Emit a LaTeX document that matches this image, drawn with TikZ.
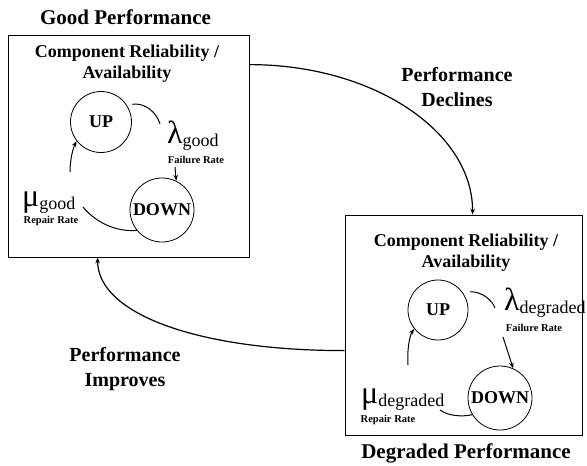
\documentclass[tikz,border=0pt]{standalone}
\usepackage{fontspec}
\setmainfont{Liberation Serif}
\usetikzlibrary{arrows.meta,calc}

% rate symbol with a lowered subscript word
\newcommand\ratesym[2]{{\fontsize{32}{32}\selectfont #1}\raisebox{-3pt}{\fontsize{18}{18}\selectfont #2}}

\begin{document}
\begin{tikzpicture}[x=1pt,y=-1pt,
  panel/.style={draw, line width=0.8pt, inner sep=0pt},
  state/.style={draw, circle, line width=0.8pt, inner sep=0pt,
    font=\fontsize{18}{18}\selectfont\bfseries},
  heading/.style={font=\fontsize{21}{25}\selectfont\bfseries, inner sep=0pt},
  subhead/.style={font=\fontsize{18}{21}\selectfont\bfseries, align=center, inner sep=0pt},
  trans/.style={font=\fontsize{20}{25}\selectfont\bfseries, align=center, inner sep=0pt},
  ratename/.style={font=\fontsize{10.5}{12}\selectfont\bfseries, inner sep=0pt},
  rate/.style={anchor=base west, inner sep=0pt},
  link/.style={line width=1pt},
  flow/.style={line width=1.2pt},
  arrowed/.style={-{Stealth[length=6pt,width=4.5pt]}}
]
\useasboundingbox (0,0) rectangle (587,466);

% ---- good performance panel ----
\node[heading] (t1) at (125.5,17) {Good Performance};
\node[panel, minimum width=241pt, minimum height=222pt] (box1) at (128.5,146) {};
\node[subhead] (s1) at (127,64) {Component Reliability /\\Availability};
\node[state, minimum size=61pt] (up1) at (101,122) {UP};
\node[state, minimum size=64pt] (dn1) at (162,210) {DOWN};
\node[rate] (lam1) at (167,143) {\ratesym{λ}{good}};
\node[ratename] (fr1) at (196,160) {Failure Rate};
\node[rate] (mu1) at (22,206) {\ratesym{μ}{good}};
\node[ratename] (rr1) at (51,221) {Repair Rate};

\coordinate (lam1in) at (160,124);
\coordinate (fr1out) at (175,167);
\coordinate (mu1out) at (83,207);
\coordinate (mu1up) at (70,172);

\draw[link] ([xshift=6pt]up1.35) .. controls +(13,-2) and +(-3,-11) .. (lam1in);
\draw[link, arrowed] (fr1out) -- (dn1.64);
\draw[link] (mu1out) .. controls (97,224) and (118,232) .. (dn1.219);
\draw[link, arrowed] (mu1up) .. controls (70,160) and (73,148) .. (up1.218);

% ---- degraded performance panel ----
\node[panel, minimum width=237pt, minimum height=220pt] (box2) at (463.5,325) {};
\node[heading] (t2) at (466,453) {Degraded Performance};
\node[subhead] (s2) at (466,253) {Component Reliability /\\Availability};
\node[state, minimum size=60pt] (up2) at (438,310) {UP};
\node[state, minimum size=64pt] (dn2) at (500,398) {DOWN};
\node[rate] (lam2) at (504,310) {\ratesym{λ}{degraded}};
\node[ratename] (fr2) at (534,328) {Failure Rate};
\node[rate] (mu2) at (361,403) {\ratesym{μ}{degraded}};
\node[ratename] (rr2) at (388,420) {Repair Rate};

\coordinate (lam2in) at (495,308);
\coordinate (fr2out) at (503,337);
\coordinate (mu2out) at (440,410);
\coordinate (mu2up) at (408,365);

\draw[link] ([xshift=8pt]up2.37) .. controls +(12,0) and +(-3,-8) .. (lam2in);
\draw[link, arrowed] (fr2out) -- (dn2.66);
\draw[link] (mu2out) .. controls (448,416) and (462,417) .. (dn2.211);
\draw[link, arrowed] (mu2up) .. controls (407,352) and (409,337) .. (up2.218);

% ---- transitions between the panels ----
\node[trans] (dec) at (457,87) {Performance\\Declines};
\node[trans] (imp) at (125,369) {Performance\\Improves};

\draw[flow, arrowed] ([yshift=-30pt]box1.north east)
  .. controls +(124,0) and +(0,-83) .. ([xshift=128pt]box2.north west);
\draw[flow, arrowed] ([yshift=-136pt]box2.north west)
  .. controls +(-148,0) and +(0,56) .. ([xshift=90pt]box1.south west);
\end{tikzpicture}
\end{document}
